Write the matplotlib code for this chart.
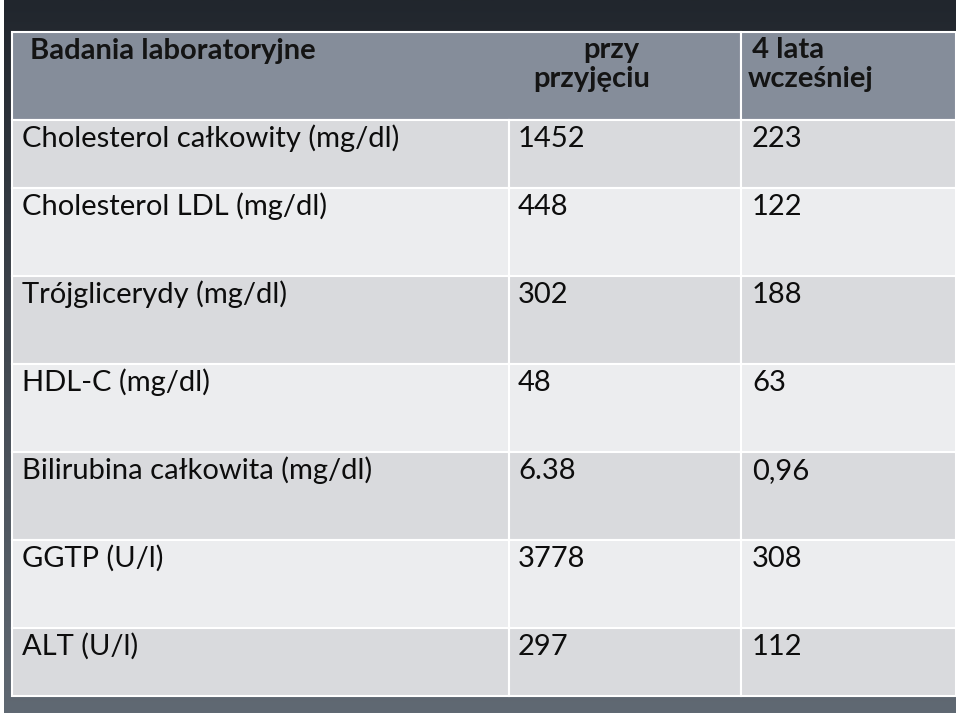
import numpy as np
import matplotlib
matplotlib.use("Agg")
import matplotlib.pyplot as plt
from matplotlib.patches import Rectangle

# ---- data ----
tests = [
    "Cholesterol całkowity (mg/dl)",
    "Cholesterol LDL (mg/dl)",
    "Trójglicerydy (mg/dl)",
    "HDL-C (mg/dl)",
    "Bilirubina całkowita (mg/dl)",
    "GGTP (U/l)",
    "ALT (U/l)",
]
admission = ["1452", "448", "302", "48", "6.38", "3778", "297"]
earlier = ["223", "122", "188", "63", "0,96", "308", "112"]
header_col1 = "Badania laboratoryjne"
header_col2 = ["przy", "przyjęciu"]
header_col3 = [" 4 lata", "wcześniej"]

# ---- layout (pixels) ----
W, H = 960, 716
row_edges = [32, 120, 188, 276, 364, 452, 540, 628, 696]
col_edges = [12, 509, 741, 956]
FONT = ["Lato", "DejaVu Sans"]

fig = plt.figure(figsize=(W / 100, H / 100), dpi=100, facecolor="white")
ax = fig.add_axes([0, 0, 1, 1])
ax.set_xlim(0, W)
ax.set_ylim(H, 0)
ax.axis("off")

# background gradient
grad = np.linspace(0, 1, 256).reshape(-1, 1)
top = np.array([0x21, 0x26, 0x2d]) / 255
bot = np.array([0x60, 0x69, 0x73]) / 255
img = top + (bot - top) * grad[..., None]
ax.imshow(img, extent=[4, 956, 713, 0], aspect="auto", zorder=0)

# header cells
hdr_color = "#858d9a"
ax.add_patch(Rectangle((col_edges[0], row_edges[0]), col_edges[2] - col_edges[0],
                       row_edges[1] - row_edges[0], facecolor=hdr_color,
                       edgecolor="white", lw=1.5, zorder=1))
ax.add_patch(Rectangle((col_edges[2], row_edges[0]), col_edges[3] - col_edges[2],
                       row_edges[1] - row_edges[0], facecolor=hdr_color,
                       edgecolor="white", lw=1.5, zorder=1))

# body cells
row_colors = ["#d9dadd", "#ecedef"]
for i in range(len(tests)):
    y0, y1 = row_edges[i + 1], row_edges[i + 2]
    for j in range(3):
        x0, x1 = col_edges[j], col_edges[j + 1]
        ax.add_patch(Rectangle((x0, y0), x1 - x0, y1 - y0,
                               facecolor=row_colors[i % 2], edgecolor="white",
                               lw=1.5, zorder=1))

# header text
hkw = dict(fontsize=21, fontweight="bold", color="#141414", family=FONT,
           va="baseline", zorder=3)
ax.text(30, 59, header_col1, ha="left", **hkw)
ax.text(611, 58, header_col2[0], ha="center", **hkw)
ax.text(592, 87, header_col2[1], ha="center", **hkw)
ax.text(745, 58, header_col3[0], ha="left", **hkw)
ax.text(748, 87, header_col3[1], ha="left", **hkw)

# body text
bkw = dict(fontsize=21, color="#0d0d0d", family=FONT, va="baseline", zorder=3)
xs = [22, 518, 752]
for i in range(len(tests)):
    yb = row_edges[i + 1] + 27
    ax.text(xs[0], yb, tests[i], ha="left", **bkw)
    ax.text(xs[1], yb, admission[i], ha="left", **bkw)
    ax.text(xs[2], yb, earlier[i], ha="left", **bkw)

fig.savefig("out.png", dpi=100, facecolor="white")
